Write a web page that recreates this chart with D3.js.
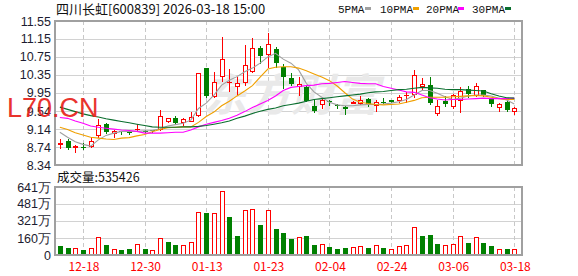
<!DOCTYPE html>
<html><head><meta charset="utf-8">
<script src="https://cdn.jsdelivr.net/npm/d3@7"></script>
<style>body{margin:0;background:#fff;overflow:hidden}</style>
</head><body><svg id="c" width="578" height="276"></svg>
<script>
// ---------- data ----------
const dates = ["12-15","12-16","12-17","12-18","12-19","12-22","12-23","12-24","12-25","12-26","12-29","12-30","12-31",
 "01-05","01-06","01-07","01-08","01-09","01-12","01-13","01-14","01-15","01-16","01-19","01-20","01-21","01-22","01-23",
 "01-26","01-27","01-28","01-29","01-30","02-02","02-03","02-04","02-05","02-06","02-09","02-10","02-11","02-12","02-13",
 "02-24","02-25","02-26","02-27","03-02","03-03","03-04","03-05","03-06","03-09","03-10","03-11","03-12","03-13","03-16","03-17","03-18"];
const openP  = [8.81,8.88,8.75,8.74,8.76,9.00,9.25,9.06,9.09,9.07,9.14,9.10,9.11,9.14,9.31,9.38,9.30,9.33,9.45,10.50,
 9.87,10.32,10.18,10.09,10.18,10.44,10.95,10.81,10.92,10.53,10.29,10.10,10.07,9.66,9.70,9.76,9.67,9.63,9.73,9.72,
 9.81,9.67,9.75,9.79,9.80,9.89,9.92,10.09,10.12,9.51,9.77,9.66,9.79,10.03,9.90,10.01,9.81,9.64,9.74,9.55];
const highP  = [8.92,8.92,8.78,8.82,8.96,9.37,9.27,9.12,9.10,9.08,9.25,9.11,9.13,9.57,9.39,9.43,9.38,9.52,10.39,10.51,
 10.41,11.20,10.47,10.30,11.02,11.16,11.00,11.28,10.98,10.59,10.40,10.30,10.10,9.81,9.81,9.79,9.71,9.66,9.76,9.88,
 9.84,9.80,9.83,9.80,9.89,9.97,10.46,10.27,10.30,9.79,9.88,9.92,10.07,10.09,10.17,10.02,9.83,9.72,9.79,9.63];
const lowP   = [8.71,8.70,8.62,8.70,8.74,8.97,9.05,8.96,9.04,9.03,9.10,9.07,9.08,9.12,9.29,9.25,9.23,9.31,9.44,9.86,
 9.85,10.21,10.00,9.92,10.12,10.42,10.61,10.53,10.53,10.06,10.13,9.90,9.76,9.53,9.60,9.67,9.62,9.47,9.72,9.71,
 9.66,9.55,9.73,9.74,9.75,9.75,9.86,10.01,9.70,9.46,9.66,9.62,9.53,9.85,9.88,9.88,9.66,9.55,9.55,9.48];
const closeP = [8.83,8.73,8.76,8.73,8.87,9.24,9.08,9.10,9.07,9.06,9.15,9.09,9.10,9.43,9.38,9.28,9.36,9.42,10.38,9.87,
 10.18,10.70,10.20,10.16,10.56,10.94,10.78,11.03,10.61,10.31,10.14,10.15,9.77,9.54,9.80,9.75,9.65,9.58,9.74,9.79,
 9.69,9.74,9.73,9.75,9.86,9.90,10.35,10.15,9.72,9.66,9.70,9.89,9.99,9.92,10.09,9.89,9.69,9.70,9.57,9.61];
const closeBeforeFirst = 8.88;
const volume = [84.8,69,66,47,66,167,94,57,47,57,101,57,44,157,123,94,94,119,402,396,
 393,600,355,179,421,431,283,421,245,205,151,167,179,94,101,75,57,66,72,82,
 66,91,66,53,82,91,261,179,189,104,91,101,176,113,167,113,85,57,57,53.5];
const ma5  = [9.07,8.96,8.86,8.80,8.76,8.90,9.00,9.05,9.09,9.09,9.09,9.10,9.11,9.15,9.21,9.24,9.27,9.34,9.60,9.72,
 9.90,10.12,10.23,10.31,10.42,10.50,10.61,10.75,10.83,10.70,10.61,10.46,10.16,9.97,9.85,9.74,9.68,9.66,9.66,9.68,
 9.69,9.69,9.70,9.72,9.75,9.80,9.90,10.00,10.00,9.94,9.86,9.80,9.83,9.88,9.90,9.90,9.88,9.83,9.79,9.70];
const ma10 = [9.18,9.13,9.06,9.01,8.96,8.94,8.92,8.91,8.94,8.95,8.99,9.02,9.08,9.13,9.17,9.18,9.19,9.19,9.29,9.42,
 9.52,9.66,9.76,9.88,9.99,10.11,10.30,10.48,10.52,10.53,10.53,10.50,10.44,10.37,10.30,10.22,10.10,9.95,9.81,9.74,
 9.71,9.69,9.68,9.69,9.70,9.74,9.78,9.84,9.85,9.85,9.85,9.86,9.87,9.88,9.89,9.88,9.85,9.82,9.80,9.80];
const ma20 = [9.40,9.38,9.32,9.27,9.21,9.18,9.16,9.14,9.12,9.11,9.09,9.05,9.05,9.05,9.06,9.07,9.07,9.12,9.19,9.25,
 9.29,9.33,9.38,9.45,9.53,9.62,9.70,9.78,9.88,10.00,10.07,10.09,10.11,10.12,10.15,10.16,10.18,10.20,10.18,10.16,
 10.15,10.15,10.09,10.05,10.01,9.97,9.96,9.90,9.84,9.81,9.79,9.80,9.80,9.81,9.82,9.83,9.82,9.82,9.82,9.83];
const ma30 = [9.63,9.58,9.53,9.48,9.44,9.41,9.37,9.34,9.31,9.28,9.25,9.22,9.19,9.18,9.18,9.18,9.19,9.19,9.20,9.22,
 9.25,9.28,9.32,9.38,9.43,9.49,9.54,9.58,9.61,9.66,9.69,9.72,9.76,9.80,9.82,9.84,9.86,9.88,9.90,9.92,
 9.95,9.97,9.98,10.00,10.02,10.03,10.05,10.07,10.06,10.05,10.03,10.02,10.02,10.01,10.00,9.99,9.93,9.88,9.84,9.83];
const priceTickLabels = ["11.55","11.15","10.75","10.35","9.95","9.54","9.14","8.74","8.34"];
const volTickValues = [641,481,321,160,0];
const volTickLabels = ["641万","481万","321万","160万","0"];
const xTickDates = ["12-18","12-30","01-13","01-23","02-04","02-24","03-06","03-18"];
const titleText = "四川长虹[600839] 2026-03-18 15:00";
const volTitleText = "成交量:535426";
const maNames = ["5PMA","10PMA","20PMA","30PMA"];

// ---------- styles / layout ----------
const RED = "#ff0000", GREEN = "#008000";
const maColors = ["#a0a0a0","#f0a000","#ff00ff","#0a6e2e"];
const P = {l:55, r:522, t:21, b:165};
const V = {t:187, b:255};

const svg = d3.select("#c");
svg.append("rect").attr("width",578).attr("height",276).attr("fill","#fff");

const x = d3.scaleLinear().domain([-0.5, 60]).range([56, 522]);
const yP = d3.scaleLinear().domain([8.34, 11.55]).range([P.b, P.t]);
const yV = d3.scaleLinear().domain([0, 641]).range([V.b, V.t]);
const px = i => Math.round(x(i));

// grids
const g = svg.append("g");
priceTickLabels.forEach(t => {
  const yy = Math.round(yP(+t)) + 0.5;
  g.append("line").attr("x1",P.l).attr("x2",P.r).attr("y1",yy).attr("y2",yy).attr("stroke","#d2d2d2");
});
volTickValues.forEach(v => {
  const yy = Math.round(yV(v)) + 0.5;
  g.append("line").attr("x1",P.l).attr("x2",P.r).attr("y1",yy).attr("y2",yy).attr("stroke","#d2d2d2");
});
xTickDates.forEach(d => {
  const i = dates.indexOf(d);
  const xx = px(i) + 0.5;
  [[P.t,P.b],[V.t,V.b]].forEach(([a,b]) => {
    g.append("line").attr("x1",xx).attr("x2",xx).attr("y1",a).attr("y2",b)
      .attr("stroke","#c8c8c8").attr("stroke-dasharray","4,3");
  });
});

// watermark
svg.append("text").attr("x",203).attr("y",111).text("东方财富")
  .attr("font-family","Noto Sans CJK SC").attr("font-size",44).attr("font-weight","bold")
  .attr("font-style","italic").attr("fill","#e9e9e9");

// candles
const cg = svg.append("g");
dates.forEach((d,i) => {
  const o = openP[i], c = closeP[i], h = highP[i], l = lowP[i];
  const cx = px(i);
  const up = c >= o;
  const top = Math.round(yP(Math.max(o,c))), bot = Math.round(yP(Math.min(o,c)));
  const yh = Math.round(yP(h)), yl = Math.round(yP(l));
  if (up) {
    cg.append("line").attr("x1",cx+0.5).attr("x2",cx+0.5).attr("y1",yh).attr("y2",top).attr("stroke",RED);
    cg.append("line").attr("x1",cx+0.5).attr("x2",cx+0.5).attr("y1",Math.max(bot,top+1)).attr("y2",yl+1).attr("stroke",RED);
    if (bot - top >= 2) {
      cg.append("rect").attr("x",cx-1.5).attr("y",top+0.5).attr("width",4).attr("height",bot-top)
        .attr("fill","#fff").attr("stroke",RED);
    } else {
      cg.append("rect").attr("x",cx-2).attr("y",top).attr("width",5).attr("height",Math.max(bot-top,1)+ (bot-top>=1?1:0)).attr("fill",RED);
    }
  } else {
    cg.append("line").attr("x1",cx+0.5).attr("x2",cx+0.5).attr("y1",yh).attr("y2",yl+1).attr("stroke",GREEN);
    cg.append("rect").attr("x",cx-2).attr("y",top).attr("width",5).attr("height",Math.max(bot-top,1)).attr("fill",GREEN);
  }
});

// moving averages
const clip = svg.append("clipPath").attr("id","pc").append("rect")
  .attr("x",P.l).attr("y",P.t).attr("width",P.r-P.l).attr("height",P.b-P.t);
const line = d3.line().x((v,i) => x(i)).y(v => yP(v));
[ma5,ma10,ma20,ma30].forEach((arr,k) => {
  svg.append("path").attr("d", line(arr)).attr("fill","none").attr("stroke",maColors[k])
    .attr("stroke-width",1.1).attr("clip-path","url(#pc)");
});

// volume bars
const vg = svg.append("g");
volume.forEach((v,i) => {
  const prev = i === 0 ? closeBeforeFirst : closeP[i-1];
  const up = closeP[i] >= prev;
  const cx = px(i);
  const top = Math.round(yV(v));
  if (up) {
    vg.append("rect").attr("x",cx-1.5).attr("y",top+0.5).attr("width",4).attr("height",V.b-top-1)
      .attr("fill","#fff").attr("stroke",RED);
  } else {
    vg.append("rect").attr("x",cx-2).attr("y",top).attr("width",5).attr("height",V.b-top).attr("fill",GREEN);
  }
});

// frames
[[P.t,P.b],[V.t,V.b]].forEach(([a,b]) => {
  svg.append("rect").attr("x",P.l).attr("y",a).attr("width",P.r-P.l).attr("height",b-a)
    .attr("fill","none").attr("stroke","#a0a0a0").attr("stroke-width",2);
});

// axes
const axP = d3.axisLeft(yP).tickValues(priceTickLabels.map(Number)).tickFormat((d,i)=>priceTickLabels[i]).tickSize(0).tickPadding(3);
const gP = svg.append("g").attr("transform",`translate(${P.l-1},0)`).call(axP);
const axV = d3.axisLeft(yV).tickValues(volTickValues).tickFormat((d,i)=>volTickLabels[i]).tickSize(0).tickPadding(3);
const gV = svg.append("g").attr("transform",`translate(${P.l-1},0)`).call(axV);
[gP,gV].forEach(a => {
  a.select(".domain").remove();
  a.selectAll("text").attr("font-family","Liberation Sans, Arial, sans-serif").attr("font-size",12.5).attr("fill","#1c1c30");
});
const axX = d3.axisBottom(x).tickValues(xTickDates.map(d => dates.indexOf(d))).tickFormat(i => dates[i]).tickSize(0).tickPadding(7);
const gX = svg.append("g").attr("transform",`translate(0.5,${V.b})`).call(axX);
gX.select(".domain").remove();
gX.selectAll("text").attr("font-family","Noto Sans CJK SC, sans-serif").attr("font-size",12).attr("fill",RED);

// titles
svg.append("text").attr("x",56).attr("y",14).text(titleText)
  .attr("font-family","Noto Sans CJK SC").attr("font-size",13).attr("fill","#111");
svg.append("text").attr("x",57).attr("y",182).text(volTitleText)
  .attr("font-family","Noto Sans CJK SC").attr("font-size",12.5).attr("fill","#111");

// legend
const legX = [338, 380, 426, 472], swX = [365, 413, 458, 505];
maNames.forEach((n,k) => {
  svg.append("text").attr("x",legX[k]).attr("y",13).text(n)
    .attr("font-family","Liberation Mono, monospace").attr("font-size",11).attr("fill","#111");
  svg.append("rect").attr("x",swX[k]).attr("y",7).attr("width",6).attr("height",3).attr("fill",maColors[k]);
});

// L70.CN overlay
svg.append("text").attr("x",7).attr("y",117).text("L70.CN")
  .attr("font-family","Liberation Sans, Arial, sans-serif").attr("font-size",27)
  .attr("fill","#e8231b").attr("opacity",0.92);
</script></body></html>
